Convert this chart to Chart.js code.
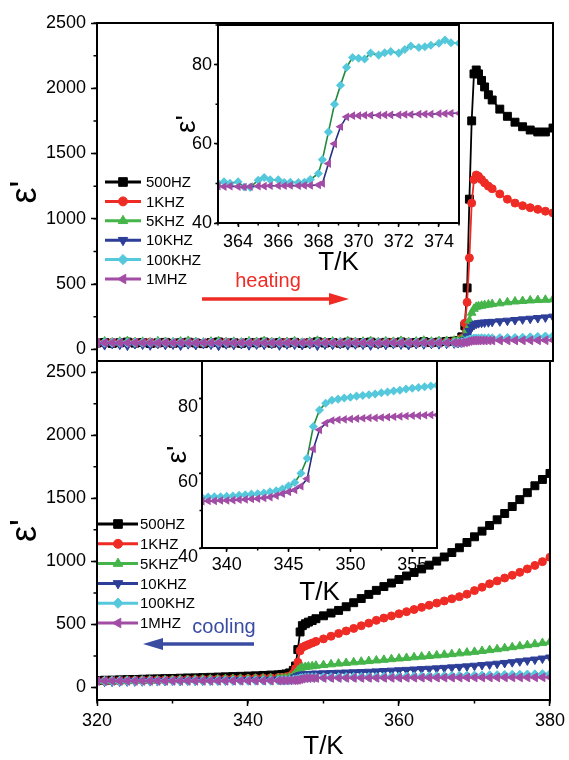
<!DOCTYPE html>
<html>
<head>
<meta charset="utf-8">
<script src="https://cdn.jsdelivr.net/npm/chart.js@4.4.0/dist/chart.umd.min.js"></script>
<style>
  html, body { margin: 0; padding: 0; background: #fff; }
  #wrap { position: relative; width: 569px; height: 760px; }
  canvas { position: absolute; left: 0; top: 0; }
</style>
</head>
<body>
<div id="wrap">
  <canvas id="heatMain" width="569" height="760"></canvas>
  <canvas id="coolMain" width="569" height="760"></canvas>
  <canvas id="heatInset" width="569" height="760"></canvas>
  <canvas id="coolInset" width="569" height="760"></canvas>
</div>
<script>
// series names, in legend order
const names = ['500HZ', '1KHZ', '5KHZ', '10KHZ', '100KHZ', '1MHZ'];

// tick labels
const mainYTicks = [0, 500, 1000, 1500, 2000, 2500];
const mainXTicks = [320, 340, 360, 380];
const heatInXTicks = [364, 366, 368, 370, 372, 374];
const coolInXTicks = [340, 345, 350, 355];
const inYTicks = [40, 60, 80];

// ---- heating, main panel ----
const heatT = [320,321,322,323,324,325,326,327,328,329,330,331,332,333,334,335,336,337,338,339,
  340,341,342,343,344,345,346,347,348,349,350,351,352,353,354,355,356,357,358,359,
  360,361,362,363,364,365,366,367,
  367.5,368,368.4,368.7,369,369.3,369.6,369.9,370.2,370.6,371,371.5,
  372,373,374,375,376,377,378,379,380];
const heat500 = [48,52,45,50,55,47,51,44,49,53,46,50,54,48,43,51,56,47,50,45,
  52,49,55,46,51,48,53,44,50,57,48,52,46,54,49,51,55,47,53,50,
  56,48,52,58,51,55,60,62,
  66,95,180,470,1150,1750,2110,2140,2110,2060,2010,1950,
  1910,1840,1785,1740,1705,1680,1665,1665,1695];
const heat1k = [50,46,53,48,44,52,49,55,47,51,45,50,53,49,46,52,48,54,45,50,
  47,53,49,51,44,55,48,50,52,46,54,49,47,51,53,48,50,45,52,56,
  49,51,47,54,50,53,57,60,
  64,85,200,360,700,1120,1300,1335,1325,1300,1275,1250,
  1230,1190,1150,1120,1100,1085,1072,1058,1045];
const heat5k = [55,60,52,58,63,54,57,50,61,56,53,59,64,55,51,58,62,54,57,52,
  60,56,63,53,58,55,61,50,57,65,55,59,53,62,56,58,63,54,60,57,
  64,55,59,66,58,62,64,66,
  68,75,100,150,220,280,310,325,330,334,338,342,
  346,352,360,366,370,374,377,379,382];
const heat10k = [38,32,41,35,28,40,36,30,42,34,37,29,39,33,41,36,27,38,34,40,
  31,37,35,42,30,38,36,33,40,28,37,35,41,32,38,36,30,39,34,41,
  37,33,40,38,42,39,43,45,
  48,52,70,100,140,170,185,195,200,203,205,207,
  210,214,219,224,229,234,239,244,250];
const heat100k = [50.2,50.5,50.1,50.4,49.8,50.6,50.3,49.9,50.5,50.0,50.4,50.2,49.7,50.6,50.1,50.3,49.9,50.5,50.2,50.0,
  50.6,49.8,50.3,50.1,50.4,49.9,50.5,50.2,50.0,50.6,50.3,49.8,50.4,50.1,50.5,50.0,50.2,50.6,49.9,50.3,
  50.4,50.1,50.5,50.4,49.1,50.9,50.4,50.3,
  50.8,52.5,60,68,73,78,81,82,81.5,82.9,82.4,83.3,
  82.9,84.3,85.4,85.4,88,91,94,97,100];
const heat1M = [49.5,49.3,49.6,49.2,49.4,49.7,49.3,49.5,49.1,49.4,49.6,49.2,49.5,49.3,49.7,49.4,49.2,49.6,49.3,49.5,
  49.1,49.4,49.6,49.3,49.5,49.2,49.7,49.4,49.3,49.6,49.2,49.5,49.4,49.1,49.6,49.3,49.5,49.4,49.2,49.6,
  49.3,49.5,49.4,49.3,49.3,49.4,49.4,49.5,
  49.5,49.6,53,58,63,66,67,67.1,67.1,67.2,67.2,67.3,
  67.3,67.5,67.6,67.7,68,68.3,68.6,68.9,69.2];

// ---- heating, inset ----
const heatInT = [363,363.3,363.6,364,364.3,364.6,365,365.3,365.6,366,366.3,366.6,367,367.3,367.6,
  368,368.2,368.5,368.8,369.1,369.4,369.7,370,370.3,370.6,371,371.3,371.6,
  372,372.3,372.6,373,373.3,373.6,374,374.3,374.6,375];
const heatIn100k = [50.1,50.4,50.0,50.4,49.1,49.0,50.8,51.5,50.9,50.9,50.2,50.3,50.2,50.3,51.0,
  52.5,56,63,70,74.8,79.3,81.8,81.6,81.4,82.9,82.4,83.0,83.3,
  82.9,83.8,84.7,84.3,84.5,84.9,85.4,86.2,85.5,85.4];
const heatIn1M = [49.3,49.2,49.3,49.2,49.1,49.2,49.3,49.3,49.4,49.4,49.4,49.5,49.4,49.5,49.5,
  49.6,50.0,55,60,64.3,66.8,67.1,67.1,67.2,67.2,67.2,67.3,67.3,
  67.3,67.4,67.4,67.5,67.5,67.5,67.6,67.6,67.7,67.7];

// ---- cooling, main panel ----
const coolT = [320,321,322,323,324,325,326,327,328,329,330,331,332,333,334,335,336,337,338,339,
  340,341,342,343,344,
  344.5,345,345.5,346,346.3,346.6,346.9,347.2,347.6,348,348.5,
  349,350,351,352,353,354,355,356,357,358,359,360,361,362,363,364,365,366,367,368,
  369,370,371,372,373,374,375,376,377,378,379,380];
const cool500 = [55,57,58,60,62,63,65,67,68,70,71,73,75,76,78,80,82,84,86,88,90,92,95,98,100,
  103,107,115,135,170,300,440,490,505,518,530,
  545,568,590,611,640,672,705,738,770,800,828,856,884,912,940,970,1002,1035,1070,1108,
  1150,1195,1240,1285,1330,1380,1435,1490,1545,1600,1650,1698];
const cool1k = [50,51,52,53,54,55,56,57,58,59,60,61,62,63,64,65,66,67,68,69,70,72,74,76,78,
  80,83,90,110,150,200,290,318,330,340,352,
  365,385,406,428,448,468,489,510,532,550,567,584,601,618,635,652,669,686,703,720,
  740,768,795,822,845,868,890,913,940,968,998,1032];
const cool5k = [48,50,49,51,53,52,54,56,55,57,58,60,59,61,62,64,63,65,66,68,67,69,70,72,73,
  73,75,80,92,110,135,150,158,162,165,168,
  172,177,183,189,194,199,204,209,214,219,224,229,234,239,244,249,254,259,264,270,
  276,282,289,296,303,311,319,327,335,343,352,362];
const cool10k = [45,46,46,47,48,48,49,50,50,51,52,52,53,54,54,55,56,56,57,58,58,59,60,61,62,
  63,64,67,72,80,90,98,102,104,106,108,
  110,112,114,116,118,120,122,124,127,130,133,136,139,142,145,148,151,155,159,163,
  167,172,177,182,188,194,200,207,214,221,229,237];
const cool100k = [50.5,50.6,50.8,50.9,51.0,51.2,51.3,51.5,51.6,51.8,51.9,52.1,52.2,52.4,52.5,52.7,52.9,53.1,53.4,53.6,
  53.8,54.1,54.4,54.7,55.2,
  55.8,56.6,57.4,60,62.5,65,71,74.5,77.2,78.7,79.5,
  79.8,80.2,80.6,81.1,81.6,82.1,82.6,83.0,83.4,84.0,84.6,85.2,85.8,86.5,87.2,88.0,88.8,89.6,90.5,91.4,
  92.3,93.3,94.3,95.4,96.5,97.7,98.9,100.2,101.5,102.9,104.3,105.8];
const cool1M = [50.6,50.7,50.8,50.9,51.0,51.1,51.2,51.3,51.4,51.5,51.6,51.7,51.8,51.9,52.0,52.1,52.2,52.3,52.4,52.6,
  52.7,52.9,53.1,53.4,54.0,
  54.5,55.0,55.5,56.5,57.4,59.5,65,69.5,72.5,73.6,74.1,
  74.3,74.5,74.7,74.8,75.0,75.2,75.4,75.5,75.6,75.8,76.0,76.2,76.4,76.6,76.8,77.0,77.2,77.4,77.6,77.8,
  78.0,78.2,78.4,78.6,78.8,79.0,79.2,79.4,79.6,79.8,80.0,80.2];

// ---- cooling, inset ----
const coolInT = [338,338.5,339,339.5,340,340.5,341,341.5,342,342.5,343,343.5,344,344.5,345,345.5,
  346,346.5,347,347.5,348,348.5,349,349.5,350,350.5,351,351.5,352,352.5,353,353.5,
  354,354.5,355,355.5,356,356.5,357];
const coolIn100k = [53.5,53.6,53.7,53.7,53.8,53.9,54.1,54.2,54.4,54.5,54.7,55.0,55.3,55.8,56.6,57.5,
  60.0,64.0,72.5,76.9,78.7,79.5,79.8,80.1,80.3,80.6,80.8,81.0,81.2,81.5,81.7,82.0,
  82.2,82.5,82.7,82.9,83.1,83.3,83.5];
const coolIn1M = [52.5,52.6,52.6,52.7,52.7,52.8,52.9,53.0,53.1,53.2,53.4,53.6,54.0,54.5,55.0,55.5,
  56.5,58.5,66.5,71.6,73.4,74.1,74.3,74.4,74.5,74.6,74.7,74.8,74.8,74.9,75.0,75.1,
  75.2,75.3,75.4,75.4,75.5,75.6,75.6];

// styles
const colors = ['#000000', '#ee2b24', '#45b54a', '#2d3e98', '#55c8dc', '#a34ca6'];
const marks = ['rect', 'circle', 'triangle', 'triangle', 'rectRot', 'triangle'];
const turns = [0, 0, 0, 180, 0, 270];
const markSize = [5.6, 4, 5, 5, 4.6, 5];

Chart.defaults.font.family = '"Liberation Sans", Arial, sans-serif';
Chart.defaults.color = '#000';

const pts = (T, v) => T.map((t, k) => ({ x: t, y: v[k] }));

function mainSets(T, series) {
  return series.map((vals, i) => ({
    label: names[i],
    data: pts(T, vals),
    borderColor: colors[i],
    backgroundColor: colors[i],
    pointBackgroundColor: colors[i],
    pointBorderColor: colors[i],
    pointStyle: marks[i],
    pointRotation: turns[i],
    pointRadius: markSize[i],
    pointBorderWidth: 1,
    borderWidth: 1.8,
    order: 6 - i
  }));
}

function insetSets(T, a, b) {
  return [
    { label: names[4], data: pts(T, a), borderColor: '#1f8a3c', pointBackgroundColor: colors[4],
      pointBorderColor: colors[4], pointStyle: 'rectRot', pointRadius: 3.4, borderWidth: 1.6, order: 2 },
    { label: names[5], data: pts(T, b), borderColor: '#24307e', pointBackgroundColor: colors[5],
      pointBorderColor: colors[5], pointStyle: 'triangle', pointRotation: 270, pointRadius: 3.4,
      borderWidth: 1.6, order: 1 }
  ];
}

// put the ticks exactly on the listed values
const useTicks = list => s => { s.ticks = list.map(v => ({ value: v })); };

const frame = {
  id: 'frame',
  beforeDraw(chart, args, o) {
    if (!o.fill) return;
    const a = chart.chartArea, ctx = chart.ctx;
    ctx.save();
    ctx.fillStyle = o.fill;
    ctx.fillRect(a.left, a.top, a.right - a.left, a.bottom - a.top);
    ctx.restore();
  },
  afterDraw(chart) {
    const a = chart.chartArea, ctx = chart.ctx;
    ctx.save();
    ctx.strokeStyle = '#000';
    ctx.lineWidth = 2;
    ctx.strokeRect(a.left, a.top, a.right - a.left, a.bottom - a.top);
    ctx.restore();
  }
};

const minorTicks = {
  id: 'minorTicks',
  afterDraw(chart, args, o) {
    const ctx = chart.ctx, sx = chart.scales.x, sy = chart.scales.y;
    ctx.save();
    ctx.strokeStyle = '#000';
    ctx.lineWidth = 1.5;
    ctx.beginPath();
    if (o.x) {
      for (let v = Math.ceil(sx.min / o.x) * o.x; v <= sx.max + 1e-9; v += o.x) {
        const p = sx.getPixelForValue(v);
        ctx.moveTo(p, sx.top);
        ctx.lineTo(p, sx.top + o.len);
      }
    }
    if (o.y) {
      for (let v = Math.ceil(sy.min / o.y) * o.y; v <= sy.max + 1e-9; v += o.y) {
        const p = sy.getPixelForValue(v);
        ctx.moveTo(sy.right, p);
        ctx.lineTo(sy.right - o.len, p);
      }
    }
    ctx.stroke();
    ctx.restore();
  }
};

// legend drawn from the datasets' own styles
const seriesKey = {
  id: 'seriesKey',
  afterDraw(chart, args, o) {
    const ctx = chart.ctx;
    chart.data.datasets.forEach((ds, i) => {
      const y = o.top + i * o.gap;
      ctx.save();
      ctx.strokeStyle = ds.borderColor;
      ctx.lineWidth = 3;
      ctx.beginPath();
      ctx.moveTo(o.x0, y);
      ctx.lineTo(o.x1, y);
      ctx.stroke();
      ctx.fillStyle = ds.pointBackgroundColor;
      ctx.strokeStyle = ds.pointBorderColor;
      ctx.lineWidth = 1;
      Chart.helpers.drawPoint(ctx, { pointStyle: ds.pointStyle, rotation: ds.pointRotation, radius: ds.pointRadius + 0.5, borderWidth: 1 },
        (o.x0 + o.x1) / 2, y);
      ctx.fillStyle = '#000';
      ctx.font = '15px "Liberation Sans", Arial, sans-serif';
      ctx.textBaseline = 'middle';
      ctx.fillText(ds.label, o.textX, y + 1);
      ctx.restore();
    });
  }
};

// "heating" / "cooling" with arrow
const note = {
  id: 'note',
  afterDraw(chart, args, o) {
    const ctx = chart.ctx;
    ctx.save();
    ctx.fillStyle = o.color;
    ctx.strokeStyle = o.color;
    ctx.font = '20px "Liberation Sans", Arial, sans-serif';
    ctx.textAlign = 'center';
    ctx.textBaseline = 'middle';
    ctx.fillText(o.text, o.tx, o.ty);
    const dir = Math.sign(o.x1 - o.x0), head = 20;
    ctx.lineWidth = 3.5;
    ctx.beginPath();
    ctx.moveTo(o.x0, o.y);
    ctx.lineTo(o.x1 - dir * head, o.y);
    ctx.stroke();
    ctx.beginPath();
    ctx.moveTo(o.x1, o.y);
    ctx.lineTo(o.x1 - dir * head, o.y - 6);
    ctx.lineTo(o.x1 - dir * head, o.y + 6);
    ctx.closePath();
    ctx.fill();
    ctx.restore();
  }
};

const tickGrid = len => ({ drawOnChartArea: false, tickLength: len, tickWidth: 1.5, tickColor: '#000' });
const blackBorder = { width: 2, color: '#000' };
const plain = v => String(v);

// heating main
new Chart(document.getElementById('heatMain'), {
  type: 'line',
  data: { datasets: mainSets(heatT, [heat500, heat1k, heat5k, heat10k, heat100k, heat1M]) },
  plugins: [frame, minorTicks, seriesKey, note],
  options: {
    responsive: false, animation: false, events: [],
    layout: { autoPadding: false, padding: { left: 0, top: 23, right: 16, bottom: 399 } },
    plugins: {
      legend: { display: false }, tooltip: { enabled: false },
      minorTicks: { y: 250, len: 3.5 },
      seriesKey: { x0: 105, x1: 141, textX: 146, top: 182, gap: 19.4 },
      note: { text: 'heating', color: '#ee2b24', tx: 268, ty: 281, x0: 202, x1: 349, y: 299 }
    },
    scales: {
      x: { type: 'linear', min: 320, max: 380, afterFit: s => { s.height = 0; },
        ticks: { display: false }, grid: { drawOnChartArea: false, drawTicks: false }, border: blackBorder },
      y: { type: 'linear', min: -90, max: 2500, afterFit: s => { s.width = 97; }, afterBuildTicks: useTicks(mainYTicks),
        ticks: { font: { size: 18 }, padding: 5, callback: plain },
        grid: tickGrid(6), border: blackBorder,
        title: { display: true, text: "ε'", font: { size: 36, lineHeight: 1 }, padding: { top: 8, bottom: 0 } } }
    }
  }
});

// cooling main
new Chart(document.getElementById('coolMain'), {
  type: 'line',
  data: { datasets: mainSets(coolT, [cool500, cool1k, cool5k, cool10k, cool100k, cool1M]) },
  plugins: [frame, minorTicks, seriesKey, note],
  options: {
    responsive: false, animation: false, events: [],
    layout: { autoPadding: false, padding: { left: 0, top: 361, right: 16, bottom: 0 } },
    plugins: {
      legend: { display: false }, tooltip: { enabled: false },
      minorTicks: { x: 10, y: 250, len: 3.5 },
      seriesKey: { x0: 98, x1: 138, textX: 140, top: 524, gap: 19.8 },
      note: { text: 'cooling', color: '#3a4ca2', tx: 224, ty: 627, x0: 254, x1: 143, y: 644 }
    },
    scales: {
      x: { type: 'linear', min: 320, max: 380, afterFit: s => { s.height = 60; }, afterBuildTicks: useTicks(mainXTicks),
        ticks: { font: { size: 18 }, padding: 4, maxRotation: 0, callback: plain },
        grid: tickGrid(6), border: blackBorder,
        title: { display: true, text: 'T/K', font: { size: 26, lineHeight: 1 }, padding: { top: 0, bottom: 0 } } },
      y: { type: 'linear', min: -100, max: 2590, afterFit: s => { s.width = 97; }, afterBuildTicks: useTicks(mainYTicks),
        ticks: { font: { size: 18 }, padding: 5, callback: plain },
        grid: tickGrid(6), border: blackBorder,
        title: { display: true, text: "ε'", font: { size: 36, lineHeight: 1 }, padding: { top: 8, bottom: 0 } } }
    }
  }
});

// heating inset
new Chart(document.getElementById('heatInset'), {
  type: 'line',
  data: { datasets: insetSets(heatInT, heatIn100k, heatIn1M) },
  plugins: [frame, minorTicks],
  options: {
    responsive: false, animation: false, events: [],
    layout: { autoPadding: false, padding: { left: 170, top: 25, right: 110, bottom: 477 } },
    plugins: { legend: { display: false }, tooltip: { enabled: false },
      frame: { fill: '#fff' }, minorTicks: { x: 1, y: 10, len: 2.5 } },
    scales: {
      x: { type: 'linear', min: 363, max: 375, afterFit: s => { s.height = 60; }, afterBuildTicks: useTicks(heatInXTicks),
        ticks: { font: { size: 18 }, padding: 4, maxRotation: 0, callback: plain },
        grid: tickGrid(4), border: blackBorder,
        title: { display: true, text: 'T/K', font: { size: 26, lineHeight: 1 }, padding: { top: 0, bottom: 7 } } },
      y: { type: 'linear', min: 40, max: 90, afterFit: s => { s.width = 48; }, afterBuildTicks: useTicks(inYTicks),
        ticks: { font: { size: 18 }, padding: 2, callback: plain },
        grid: tickGrid(4), border: blackBorder,
        title: { display: true, text: "ε'", font: { size: 28, lineHeight: 1 }, padding: { top: 3, bottom: 0 } } }
    }
  }
});

// cooling inset
new Chart(document.getElementById('coolInset'), {
  type: 'line',
  data: { datasets: insetSets(coolInT, coolIn100k, coolIn1M) },
  plugins: [frame, minorTicks],
  options: {
    responsive: false, animation: false, events: [],
    layout: { autoPadding: false, padding: { left: 154, top: 361, right: 132, bottom: 152 } },
    plugins: { legend: { display: false }, tooltip: { enabled: false },
      frame: { fill: '#fff' }, minorTicks: { x: 2.5, y: 10, len: 2.5 } },
    scales: {
      x: { type: 'linear', min: 338, max: 357, afterFit: s => { s.height = 60; }, afterBuildTicks: useTicks(coolInXTicks),
        ticks: { font: { size: 18 }, padding: 2, maxRotation: 0, callback: plain },
        grid: tickGrid(4), border: blackBorder,
        title: { display: true, text: 'T/K', font: { size: 26, lineHeight: 1 }, padding: { top: 0, bottom: 2 } } },
      y: { type: 'linear', min: 40, max: 90, afterFit: s => { s.width = 48; }, afterBuildTicks: useTicks(inYTicks),
        ticks: { font: { size: 18 }, padding: 1, labelOffset: 9, callback: plain },
        grid: tickGrid(3), border: blackBorder,
        title: { display: true, text: "ε'", font: { size: 28, lineHeight: 1 }, padding: { top: 10, bottom: 0 } } }
    }
  }
});
</script>
</body>
</html>
